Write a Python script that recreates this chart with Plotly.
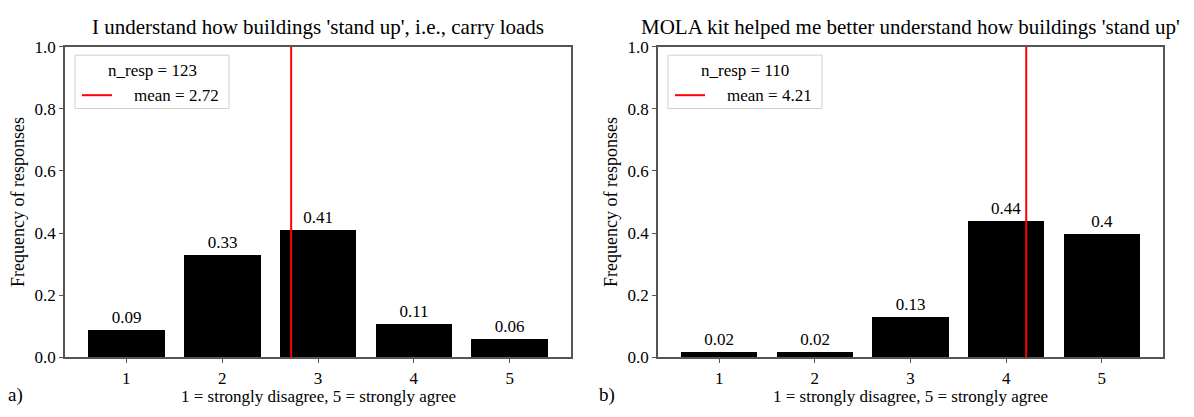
import plotly.graph_objects as go

# page body has an 8px default margin; keep the whole page inside the window
OFF = 8
W, H = 1194 - 2 * OFF, 417 - OFF

# ---- data ----
categories = [1, 2, 3, 4, 5]
freq_a = [0.09, 0.33, 0.41, 0.11, 0.06]
freq_b = [0.02, 0.02, 0.13, 0.44, 0.40]
mean_a = 2.72
mean_b = 4.21
n_a = 123
n_b = 110
title_a = "I understand how buildings 'stand up', i.e., carry loads"
title_b = "MOLA kit helped me better understand how buildings 'stand up'"
xlabel = "1 = strongly disagree, 5 = strongly agree"
ylabel = "Frequency of responses"
yticks = [0.0, 0.2, 0.4, 0.6, 0.8, 1.0]

FONT = "Liberation Serif"

# layout geometry in screen pixels
A_X0, A_X1 = 65, 571
B_X0, B_X1 = 658, 1163
Y_TOP, Y_BOT = 39, 365


def px(x):
    return (x - OFF) / W


def py(y):
    return 1 - (y - OFF) / H


fig = go.Figure()

for i, (freq, mean) in enumerate([(freq_a, mean_a), (freq_b, mean_b)]):
    xa = "x" if i == 0 else "x2"
    ya = "y" if i == 0 else "y2"
    fig.add_trace(go.Bar(
        x=categories, y=freq, width=0.8,
        marker=dict(color="black", line=dict(width=0)),
        text=[str(v) for v in freq], textposition="outside",
        textfont=dict(family=FONT, size=17, color="black"),
        cliponaxis=False,
        xaxis=xa, yaxis=ya, showlegend=False, hoverinfo="skip",
    ))
    fig.add_trace(go.Scatter(
        x=[mean, mean], y=[0, 1], mode="lines",
        line=dict(color="red", width=2),
        xaxis=xa, yaxis=ya, showlegend=False, hoverinfo="skip",
    ))

axis_common = dict(
    showline=True, linecolor="#555", linewidth=1.5, mirror=True,
    ticks="outside", ticklen=4, tickcolor="#555", tickwidth=1,
    showgrid=False, zeroline=False,
    tickfont=dict(family=FONT, size=17, color="black"),
)

fig.update_layout(
    width=W, height=H,
    margin=dict(l=0, r=0, t=0, b=0),
    paper_bgcolor="white", plot_bgcolor="white",
    bargap=0,
    xaxis=dict(domain=[px(A_X0), px(A_X1)], range=[0.36, 5.64],
               tickvals=categories, **axis_common),
    yaxis=dict(domain=[py(Y_BOT), py(Y_TOP)], range=[0, 1],
               tickvals=yticks, tickformat=".1f", **axis_common),
    xaxis2=dict(domain=[px(B_X0), px(B_X1)], range=[0.36, 5.64],
                tickvals=categories, anchor="y2", **axis_common),
    yaxis2=dict(domain=[py(Y_BOT), py(Y_TOP)], range=[0, 1],
                tickvals=yticks, tickformat=".1f", anchor="x2", **axis_common),
)

annotations = []
shapes = []

panels = [
    (A_X0, A_X1, title_a, n_a, mean_a, "a)", 15),
    (B_X0, B_X1, title_b, n_b, mean_b, "b)", 607),
]
for x0, x1, title, n, mean, tag, tagx in panels:
    cx = (x0 + x1) / 2
    annotations.append(dict(
        text=title, x=px(cx), y=py(19), xref="paper", yref="paper",
        xanchor="center", yanchor="middle", showarrow=False,
        font=dict(family=FONT, size=21, color="black")))
    annotations.append(dict(
        text=xlabel, x=px(cx), y=py(406), xref="paper", yref="paper",
        xanchor="center", yanchor="middle", showarrow=False,
        font=dict(family=FONT, size=17, color="black")))
    annotations.append(dict(
        text=ylabel, x=px(x0 - 47), y=py((Y_TOP + Y_BOT) / 2),
        xref="paper", yref="paper", textangle=-90,
        xanchor="center", yanchor="middle", showarrow=False,
        font=dict(family=FONT, size=18, color="black")))
    annotations.append(dict(
        text=tag, x=px(tagx), y=py(404), xref="paper", yref="paper",
        xanchor="center", yanchor="middle", showarrow=False,
        font=dict(family=FONT, size=19, color="black")))
    # legend box
    lx0, lx1 = x0 + 10, x0 + 164
    ly0, ly1 = 48, 104
    shapes.append(dict(type="rect", xref="paper", yref="paper",
                       x0=px(lx0), x1=px(lx1), y0=py(ly1), y1=py(ly0),
                       line=dict(color="#d0d0d0", width=1),
                       fillcolor="rgba(255,255,255,0.8)", layer="above"))
    annotations.append(dict(
        text=f"n_resp = {n}", x=px((lx0 + lx1) / 2), y=py(64),
        xref="paper", yref="paper", xanchor="center", yanchor="middle",
        showarrow=False, font=dict(family=FONT, size=17, color="black")))
    shapes.append(dict(type="line", xref="paper", yref="paper",
                       x0=px(lx0 + 7), x1=px(lx0 + 37), y0=py(90), y1=py(90),
                       line=dict(color="red", width=2), layer="above"))
    annotations.append(dict(
        text=f"mean = {mean}", x=px(lx0 + 57), y=py(90),
        xref="paper", yref="paper", xanchor="left", yanchor="middle",
        showarrow=False, font=dict(family=FONT, size=17, color="black")))

fig.update_layout(annotations=annotations, shapes=shapes)

fig.write_html("out.html")
